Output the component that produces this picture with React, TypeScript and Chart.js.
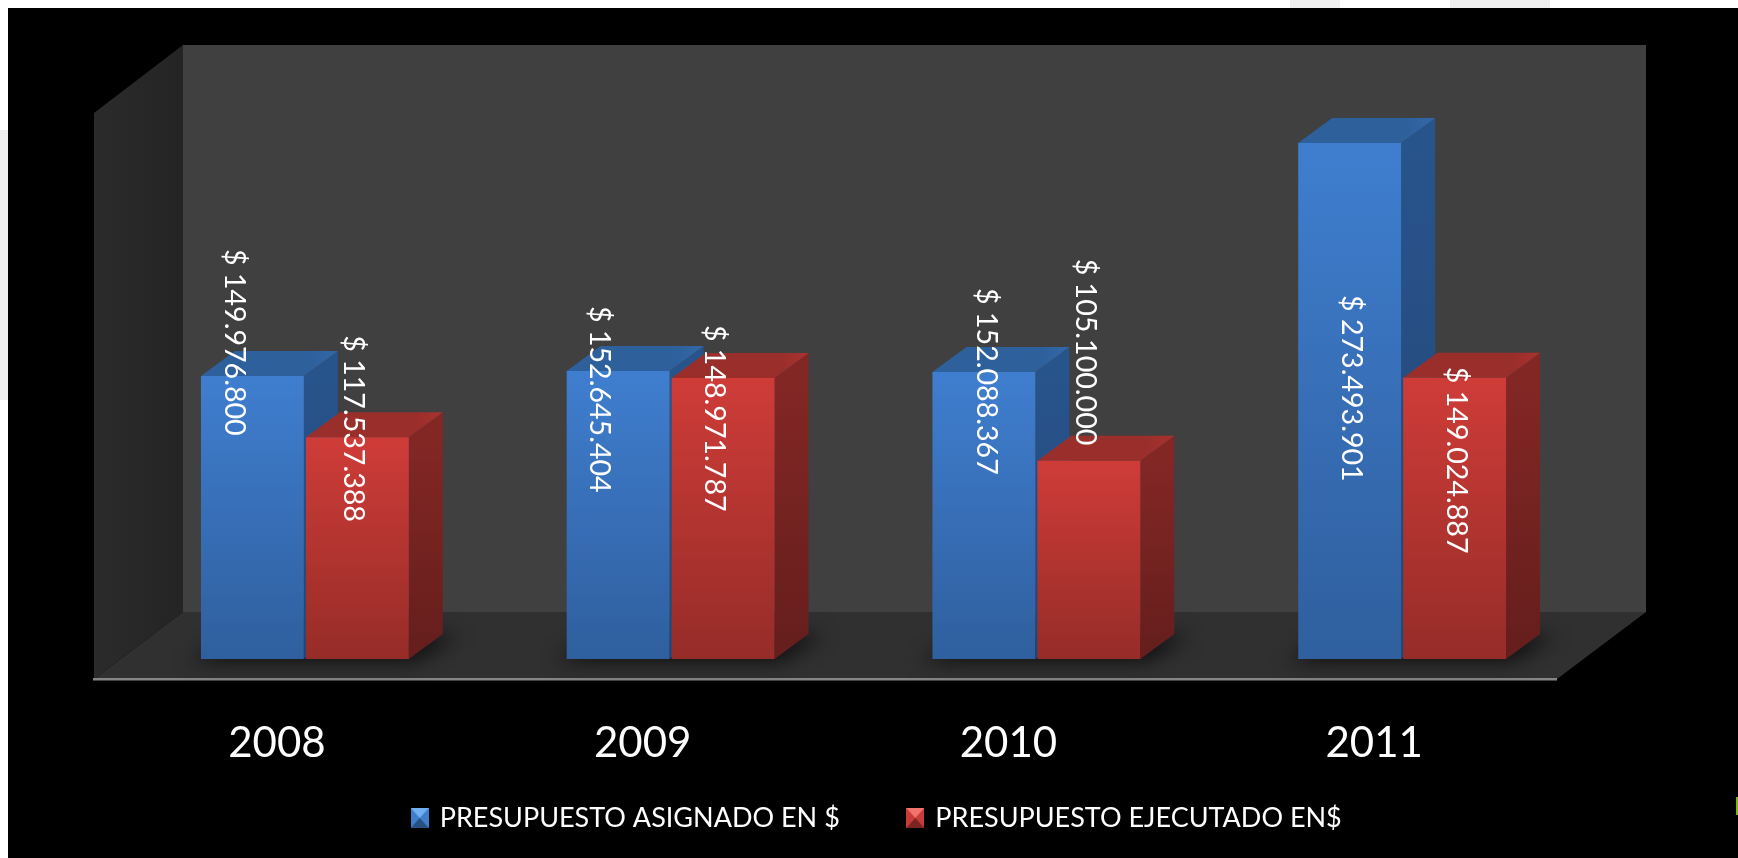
import React, { useEffect, useRef } from "react";
import { Chart, registerables } from "chart.js";

Chart.register(...registerables);

const years = ["2008", "2009", "2010", "2011"];
const asignado = [149976800, 152645404, 152088367, 273493901];
const ejecutado = [117537388, 148971787, 105100000, 149024887];
const seriesNames = ["PRESUPUESTO ASIGNADO EN $", "PRESUPUESTO EJECUTADO EN$"];

// hand-placed value labels in the reference: shift from bar centre, and text start relative to bar top
const labelShiftX = [[-18, -19, 2, 2], [-4, -9, -4, 2]];
const labelShiftY = [[-127, -65, -84, 152], [-102, -53, -202, -11]];

const DEPTH_X = 34;
const DEPTH_Y = 25;
const FONT = "Lato";

const palette = [
  { front: ["#3f7ecf", "#2f5f9e"], top: "#2e609c", topEdge: "#3368a8", side: ["#28548c", "#224677"], light: "#6fb0f0", mid: "#3f7ecb", dark: "#274f82" },
  { front: ["#cf3c38", "#962c28"], top: "#9a2e2b", topEdge: "#a9322e", side: ["#832725", "#641e1c"], light: "#f2726c", mid: "#c63c38", dark: "#7a2523" },
];

function money(v: number) {
  return "$ " + String(v).replace(/\B(?=(\d{3})+$)/g, ".");
}

function legendIcon(p: (typeof palette)[number]) {
  const c = document.createElement("canvas");
  c.width = 18;
  c.height = 20;
  const g = c.getContext("2d")!;
  const tri = (pts: number[][], fill: string | CanvasGradient) => {
    g.beginPath();
    pts.forEach(([x, y], i) => (i ? g.lineTo(x, y) : g.moveTo(x, y)));
    g.closePath();
    g.fillStyle = fill;
    g.fill();
  };
  tri([[0, 0], [18, 0], [18, 20], [0, 20]], p.mid);
  tri([[0, 0], [18, 0], [9, 10]], p.light);
  tri([[0, 20], [18, 20], [9, 10]], p.dark);
  return c;
}

function poly(ctx: CanvasRenderingContext2D, pts: number[][], fill: string | CanvasGradient) {
  ctx.beginPath();
  pts.forEach(([x, y], i) => (i ? ctx.lineTo(x, y) : ctx.moveTo(x, y)));
  ctx.closePath();
  ctx.fillStyle = fill;
  ctx.fill();
}

const room = {
  id: "room",
  beforeDraw(chart: any) {
    const { ctx, width, height, chartArea: a } = chart;
    const base = a.bottom;
    const wallTop = a.top - 48;
    const floorBack = base - 47;
    const floorFront = base + 20;
    const backL = a.left + 61;
    const backR = a.right + 61;
    const frontL = a.left - 28;
    const frontR = a.right - 28;
    ctx.save();
    ctx.fillStyle = "#ffffff";
    ctx.fillRect(0, 0, width, height);
    ctx.fillStyle = "#f0f0f0";
    ctx.fillRect(0, 130, 8, 270);
    ctx.fillRect(1290, 0, 50, 8);
    ctx.fillRect(1450, 0, 100, 8);
    ctx.fillStyle = "#000000";
    ctx.fillRect(8, 8, width - 8, height - 8);
    ctx.fillStyle = "#7ab317";
    ctx.fillRect(width - 2, 797, 2, 18);
    // back wall
    ctx.fillStyle = "#404040";
    ctx.fillRect(backL, wallTop, backR - backL, floorBack - wallTop);
    // side wall
    const wall = ctx.createLinearGradient(frontL, 0, backL, 0);
    wall.addColorStop(0, "#2b2b2b");
    wall.addColorStop(1, "#242424");
    poly(ctx, [[frontL, wallTop + 68], [backL, wallTop], [backL, floorBack], [frontL, floorFront]], wall);
    // floor
    poly(ctx, [[frontL, floorFront], [backL, floorBack], [backR, floorBack], [frontR, floorFront]], "#303030");
    // axis edge
    ctx.fillStyle = "#858585";
    ctx.fillRect(frontL - 1, floorFront - 1, frontR - frontL + 1, 2.5);
    // floor shadows under each pair of bars
    const metaA = chart.getDatasetMeta(0).data;
    const metaB = chart.getDatasetMeta(1).data;
    ctx.filter = "blur(10px)";
    metaA.forEach((bar: any, i: number) => {
      const l = bar.x - bar.width / 2;
      const r = metaB[i].x + metaB[i].width / 2;
      ctx.fillStyle = "rgba(0,0,0,0.7)";
      ctx.beginPath();
      ctx.moveTo(l - 12, base + 2);
      ctx.lineTo(r + 6, base + 2);
      ctx.lineTo(r + 50, base - 24);
      ctx.lineTo(l + 34, base - 24);
      ctx.closePath();
      ctx.fill();
    });
    ctx.filter = "none";
    ctx.restore();
  },
  afterLayout(chart: any) {
    const lg = chart.legend;
    lg.top = 735.5;
    lg.bottom = 858;
    lg.left += 24;
    lg.right += 24;
  },
  beforeDatasetsDraw(chart: any) {
    const { ctx } = chart;
    ctx.save();
    [0, 1].forEach((d) => {
      const p = palette[d];
      chart.getDatasetMeta(d).data.forEach((bar: any) => {
        const l = bar.x - bar.width / 2;
        const r = bar.x + bar.width / 2;
        const t = bar.y;
        const b = bar.base;
        const side = ctx.createLinearGradient(0, t, 0, b);
        side.addColorStop(0, p.side[0]);
        side.addColorStop(1, p.side[1]);
        poly(ctx, [[r, t], [r + DEPTH_X, t - DEPTH_Y], [r + DEPTH_X, b - DEPTH_Y], [r, b]], side);
        const top = ctx.createLinearGradient(l, 0, r + DEPTH_X, 0);
        top.addColorStop(0, p.top);
        top.addColorStop(0.8, p.top);
        top.addColorStop(1, p.topEdge);
        poly(ctx, [[l, t], [l + DEPTH_X, t - DEPTH_Y], [r + DEPTH_X, t - DEPTH_Y], [r, t]], top);
      });
    });
    ctx.restore();
  },
  afterDatasetsDraw(chart: any) {
    const { ctx } = chart;
    ctx.save();
    ctx.fillStyle = "#ffffff";
    ctx.font = `28.6px ${FONT}`;
    ctx.textAlign = "left";
    ctx.textBaseline = "middle";
    [0, 1].forEach((d) => {
      chart.getDatasetMeta(d).data.forEach((bar: any, i: number) => {
        const value = chart.data.datasets[d].data[i];
        ctx.save();
        ctx.translate(bar.x + labelShiftX[d][i], bar.y + labelShiftY[d][i]);
        ctx.rotate(Math.PI / 2);
        ctx.fillText(money(value), 0, 0);
        ctx.restore();
      });
    });
    ctx.restore();
  },
};

export default function App() {
  const ref = useRef<HTMLCanvasElement>(null);
  useEffect(() => {
    document.body.style.margin = "0";
    document.body.style.background = "#fff";
    const gradient = (d: number) => (c: any) => {
      const chart = c.chart;
      if (!chart.chartArea || c.raw === undefined) return palette[d].front[0];
      const y = chart.scales.y;
      const g = chart.ctx.createLinearGradient(0, y.getPixelForValue(c.raw), 0, y.getPixelForValue(0));
      g.addColorStop(0, palette[d].front[0]);
      g.addColorStop(1, palette[d].front[1]);
      return g;
    };
    const chart = new Chart(ref.current!, {
      type: "bar",
      data: {
        labels: years,
        datasets: [
          { label: seriesNames[0], data: asignado, backgroundColor: gradient(0), pointStyle: legendIcon(palette[0]) },
          { label: seriesNames[1], data: ejecutado, backgroundColor: gradient(1), pointStyle: legendIcon(palette[1]) },
        ],
      },
      options: {
        responsive: false,
        animation: false,
        datasets: { bar: { categoryPercentage: 0.574, barPercentage: 0.98 } },
        layout: { padding: { left: 122, right: 153, top: 93, bottom: 0 } },
        scales: {
          x: {
            grid: { display: false, drawTicks: false },
            border: { display: false },
            afterFit: (s: any) => {
              s.height = 159;
            },
            ticks: {
              color: "#ffffff",
              padding: 59,
              labelOffset: -28,
              maxRotation: 0,
              font: { family: FONT, size: 42 },
            },
          },
          y: { display: false, min: 0, max: 300000000 },
        },
        plugins: {
          tooltip: { enabled: false },
          legend: {
            position: "bottom",
            maxHeight: 40,
            labels: {
              color: "#ffffff",
              usePointStyle: true,
              boxWidth: 13,
              boxHeight: 20,
              padding: 69,
              font: { family: FONT, size: 27 },
            },
          },
        },
      },
      plugins: [room],
    } as any);
    return () => chart.destroy();
  }, []);
  return (
    <canvas
      ref={ref}
      width={1738}
      height={858}
      style={{ position: "fixed", left: 0, top: 0, width: 1738, height: 858, display: "block" }}
    />
  );
}
